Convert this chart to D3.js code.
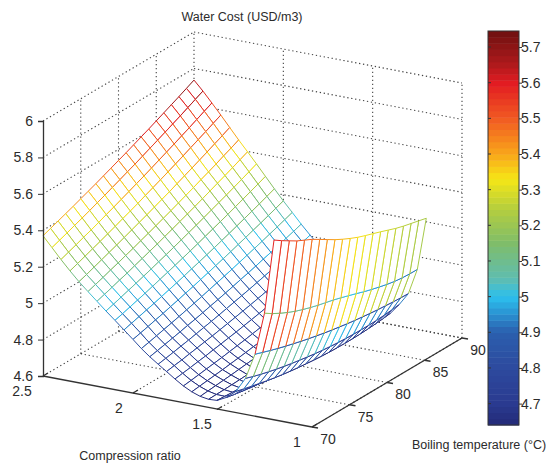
<!DOCTYPE html>
<html>
<head>
<meta charset="utf-8">
<script src="https://d3js.org/d3.v7.min.js"></script>
<style>
  html, body { margin: 0; padding: 0; background: #fff; }
  text { font-family: "Liberation Sans", Arial, sans-serif; fill: #2b2b2b; }
</style>
</head>
<body>
<svg id="chart" width="559" height="466"></svg>
<script>
// compression ratio rows, far side first
var crValues = [2.5, 2.45, 2.4, 2.35, 2.3, 2.25, 2.2, 2.15, 2.1, 2.05, 2, 1.95, 1.9, 1.85, 1.8, 1.75, 1.7, 1.65, 1.6, 1.55, 1.5, 1.45, 1.4, 1.35, 1.3, 1.25, 1.2];
var tempValues = [70, 71, 72, 73, 74, 75, 76, 77, 78, 79, 80, 81, 82, 83, 84, 85, 86, 87, 88, 89, 90];

var waterCost = [
  [5.370,5.386,5.402,5.418,5.434,5.451,5.468,5.485,5.503,5.521,5.539,5.557,5.576,5.595,5.614,5.634,5.654,5.674,5.694,5.715,5.736],
  [5.314,5.330,5.346,5.363,5.379,5.396,5.414,5.431,5.449,5.467,5.486,5.504,5.523,5.543,5.562,5.582,5.602,5.622,5.643,5.664,5.685],
  [5.258,5.274,5.290,5.307,5.323,5.340,5.358,5.375,5.393,5.411,5.430,5.448,5.467,5.487,5.506,5.526,5.546,5.566,5.587,5.608,5.629],
  [5.205,5.221,5.237,5.253,5.269,5.286,5.303,5.321,5.338,5.356,5.375,5.393,5.412,5.431,5.450,5.470,5.490,5.510,5.530,5.551,5.572],
  [5.155,5.170,5.186,5.202,5.218,5.234,5.251,5.268,5.285,5.302,5.320,5.338,5.356,5.375,5.394,5.413,5.432,5.452,5.472,5.492,5.513],
  [5.110,5.125,5.139,5.155,5.170,5.186,5.201,5.218,5.234,5.251,5.268,5.285,5.303,5.321,5.339,5.358,5.376,5.395,5.415,5.434,5.454],
  [5.066,5.080,5.094,5.109,5.123,5.139,5.154,5.170,5.185,5.202,5.218,5.235,5.252,5.269,5.287,5.305,5.323,5.341,5.360,5.379,5.398],
  [5.022,5.035,5.049,5.063,5.077,5.091,5.106,5.121,5.136,5.152,5.168,5.184,5.200,5.217,5.234,5.251,5.268,5.286,5.304,5.322,5.341],
  [4.980,4.992,5.005,5.018,5.031,5.045,5.059,5.073,5.087,5.102,5.117,5.132,5.148,5.164,5.180,5.196,5.213,5.230,5.247,5.264,5.282],
  [4.937,4.949,4.961,4.973,4.985,4.998,5.011,5.024,5.038,5.052,5.066,5.080,5.095,5.110,5.125,5.141,5.157,5.173,5.189,5.206,5.223],
  [4.894,4.905,4.916,4.928,4.939,4.952,4.964,4.977,4.989,5.003,5.016,5.030,5.044,5.058,5.073,5.088,5.103,5.118,5.134,5.150,5.166],
  [4.853,4.863,4.874,4.885,4.896,4.907,4.919,4.931,4.943,4.956,4.969,4.982,4.995,5.009,5.023,5.037,5.051,5.066,5.081,5.096,5.112],
  [4.817,4.826,4.836,4.846,4.856,4.867,4.877,4.888,4.900,4.911,4.923,4.935,4.948,4.960,4.973,4.987,5.000,5.014,5.028,5.042,5.057],
  [4.785,4.793,4.802,4.811,4.820,4.830,4.840,4.850,4.860,4.871,4.882,4.893,4.904,4.916,4.928,4.940,4.953,4.966,4.979,4.992,5.006],
  [4.754,4.762,4.769,4.778,4.786,4.795,4.803,4.813,4.822,4.832,4.842,4.852,4.863,4.874,4.885,4.897,4.908,4.920,4.933,4.945,4.958],
  [4.722,4.729,4.736,4.744,4.751,4.760,4.768,4.777,4.785,4.795,4.804,4.814,4.824,4.834,4.845,4.856,4.867,4.878,4.890,4.902,4.914],
  [4.693,4.699,4.706,4.713,4.720,4.727,4.735,4.743,4.751,4.760,4.769,4.778,4.787,4.797,4.807,4.817,4.827,4.838,4.849,4.860,4.872],
  [4.670,4.676,4.682,4.688,4.694,4.701,4.708,4.715,4.723,4.730,4.739,4.747,4.756,4.765,4.774,4.783,4.793,4.803,4.814,4.824,4.835],
  [4.654,4.659,4.664,4.669,4.674,4.680,4.686,4.692,4.699,4.706,4.713,4.720,4.728,4.736,4.744,4.753,4.762,4.771,4.780,4.790,4.800],
  [4.647,4.649,4.651,4.654,4.657,4.661,4.665,4.670,4.675,4.681,4.687,4.694,4.701,4.708,4.716,4.724,4.732,4.740,4.748,4.757,4.765],
  [4.650,4.648,4.646,4.645,4.644,4.644,4.645,4.647,4.650,4.654,4.659,4.664,4.670,4.676,4.683,4.690,4.697,4.704,4.712,4.721,4.730],
  [4.676,4.668,4.661,4.655,4.650,4.646,4.643,4.641,4.640,4.640,4.641,4.643,4.645,4.648,4.652,4.657,4.663,4.669,4.676,4.684,4.693],
  [4.719,4.708,4.698,4.689,4.680,4.672,4.665,4.659,4.654,4.650,4.646,4.643,4.641,4.640,4.640,4.641,4.643,4.646,4.650,4.655,4.662],
  [4.800,4.786,4.774,4.763,4.753,4.744,4.736,4.729,4.722,4.716,4.711,4.707,4.704,4.702,4.701,4.701,4.702,4.704,4.708,4.713,4.720],
  [4.942,4.928,4.914,4.901,4.889,4.878,4.867,4.857,4.848,4.839,4.831,4.824,4.817,4.811,4.806,4.801,4.797,4.794,4.791,4.789,4.788],
  [5.177,5.150,5.128,5.108,5.090,5.075,5.062,5.050,5.040,5.030,5.018,5.005,4.992,4.978,4.966,4.955,4.945,4.937,4.932,4.930,4.930],
  [5.588,5.560,5.535,5.510,5.490,5.470,5.445,5.420,5.395,5.373,5.353,5.335,5.320,5.306,5.292,5.277,5.262,5.250,5.240,5.230,5.220]
];

var zTicks = [4.6, 4.8, 5, 5.2, 5.4, 5.6, 5.8, 6];
var crTicks = [2.5, 2, 1.5, 1];
var tempTicks = [70, 75, 80, 85, 90];
var barTicks = [4.7, 4.8, 4.9, 5, 5.1, 5.2, 5.3, 5.4, 5.5, 5.6, 5.7];

// colour bar
var colorValues = [4.64, 4.7, 4.8, 4.9, 4.95, 5, 5.05, 5.15, 5.25, 5.33, 5.4, 5.5, 5.6, 5.65, 5.745];
var colorStops = ["#232a78", "#2a3a90", "#2d4a9e", "#2b5fae", "#2a90d0", "#2cc0ee", "#5fbdb0", "#7fbd6a", "#b7cf3c", "#f5e616", "#f9a61a", "#f15a22", "#e21b22", "#b01a1c", "#6e1010"];

var svg = d3.select("#chart");
var color = d3.scaleLinear().domain(colorValues).range(colorStops).clamp(true);

// the box is a bit warped in the picture, so front and back edges get their own scales
var xFront = d3.scaleLinear().domain(crTicks).range([43, 133, 217, 312]);
var yFront = d3.scaleLinear().domain(crTicks).range([376, 393, 409.5, 427]);
var xBack = d3.scaleLinear().domain([2.5, 1]).range([194, 462]);
var yBack = d3.scaleLinear().domain([2.5, 1]).range([287, 338]);
var tScale = d3.scaleLinear().domain([70, 90]).range([0, 1]);
var zHeight = d3.scaleLinear().domain([4.6, 6]).range([0, 255]);

function project(cr, temp, z) {
  var t = tScale(temp);
  return [
    xFront(cr) * (1 - t) + xBack(cr) * t,
    yFront(cr) * (1 - t) + yBack(cr) * t - zHeight(z)
  ];
}

function addLine(g, a, b) {
  return g.append("line")
    .attr("x1", a[0]).attr("y1", a[1])
    .attr("x2", b[0]).attr("y2", b[1]);
}

// dotted box
var grid = svg.append("g")
  .attr("fill", "none")
  .attr("stroke", "#444")
  .attr("stroke-width", 1.1)
  .attr("stroke-dasharray", "1.3 2.7");

zTicks.forEach(function(z) {
  addLine(grid, project(2.5, 70, z), project(2.5, 90, z));
  addLine(grid, project(2.5, 90, z), project(1, 90, z));
});
tempTicks.slice(1).forEach(function(temp) {
  addLine(grid, project(2.5, temp, 4.6), project(2.5, temp, 6));
  addLine(grid, project(2.5, temp, 4.6), project(1, temp, 4.6));
});
crTicks.slice(1).forEach(function(cr) {
  addLine(grid, project(cr, 90, 4.6), project(cr, 90, 6));
  addLine(grid, project(cr, 70, 4.6), project(cr, 90, 4.6));
});

// mesh, painted from the far corner to the near one with white faces
var cells = [];
for (var i = 0; i < crValues.length - 1; i++) {
  for (var j = tempValues.length - 2; j >= 0; j--) {
    cells.push({i: i, j: j});
  }
}

var mesh = svg.append("g").attr("stroke-width", 1).attr("fill", "none");

mesh.selectAll("g")
  .data(cells)
  .enter().append("g")
  .each(function(d) {
    var g = d3.select(this);
    var i = d.i, j = d.j;
    var last = crValues.length - 1;
    var p00 = project(crValues[i], tempValues[j], waterCost[i][j]);
    var p01 = project(crValues[i], tempValues[j + 1], waterCost[i][j + 1]);
    var p10 = project(crValues[i + 1], tempValues[j], waterCost[i + 1][j]);
    var p11 = project(crValues[i + 1], tempValues[j + 1], waterCost[i + 1][j + 1]);

    g.append("polygon")
      .attr("points", [p00, p01, p11, p10].join(" "))
      .attr("fill", "#fff");

    // lines along the temperature axis take the row's colour,
    // lines along the ratio axis take the colour two rows nearer, as in the picture
    addLine(g, p00, p01).attr("stroke", color(waterCost[i][j]));
    addLine(g, p10, p11).attr("stroke", color(waterCost[i + 1][j]));
    addLine(g, p00, p10).attr("stroke", color(waterCost[Math.min(i + 2, last)][j]));
    addLine(g, p01, p11).attr("stroke", color(waterCost[Math.min(i + 2, last)][j + 1]));
  });

// solid axes
var axes = svg.append("g").attr("stroke", "#333").attr("stroke-width", 1.3).attr("fill", "none");
addLine(axes, project(2.5, 70, 4.6), project(1, 70, 4.6));
addLine(axes, project(1, 70, 4.6), project(1, 90, 4.6));

crTicks.forEach(function(cr, n) {
  var p = project(cr, 70, 4.6);
  addLine(axes, p, [p[0] + 5, p[1] - 3]);
  svg.append("text")
    .attr("x", p[0] + [-21, -14, -15, -15][n])
    .attr("y", p[1] + 15)
    .attr("dy", "0.35em")
    .attr("text-anchor", "middle")
    .attr("font-size", 14)
    .text(cr);
});

tempTicks.forEach(function(temp) {
  var p = project(1, temp, 4.6);
  addLine(axes, p, [p[0] + 6, p[1] + 1]);
  svg.append("text")
    .attr("x", p[0] + 16)
    .attr("y", p[1] + 12)
    .attr("dy", "0.35em")
    .attr("text-anchor", "middle")
    .attr("font-size", 14)
    .text(temp);
});

var zScale = d3.scaleLinear().domain([4.6, 6]).range([376, 121]);
var zAxis = svg.append("g")
  .attr("transform", "translate(43,0)")
  .call(d3.axisLeft(zScale).tickValues(zTicks).tickSize(5).tickPadding(5).tickFormat(function(d) { return d; }));
zAxis.selectAll("text").attr("font-size", 14).attr("font-family", null);
zAxis.selectAll("line").attr("stroke", "#333");
zAxis.select(".domain").attr("stroke", "#333").attr("stroke-width", 1.3);

// colour bar
var barY = d3.scaleLinear().domain([4.64, 5.745]).range([425, 31]);
var bandValues = d3.range(0, 64);
var bandH = 394 / 64;
svg.append("g").selectAll("rect")
  .data(bandValues)
  .enter().append("rect")
  .attr("x", 488)
  .attr("width", 31)
  .attr("y", function(d) { return 425 - (d + 1) * bandH; })
  .attr("height", bandH + 0.5)
  .attr("fill", function(d) { return color(barY.invert(425 - (d + 0.5) * bandH)); });

svg.append("rect")
  .attr("x", 488).attr("y", 31).attr("width", 31).attr("height", 394)
  .attr("fill", "none").attr("stroke", "#333").attr("stroke-width", 1);

var barAxis = svg.append("g")
  .attr("transform", "translate(519,0)")
  .call(d3.axisRight(barY).tickValues(barTicks).tickSize(3).tickPadding(-1).tickFormat(function(d) { return d; }));
barAxis.select(".domain").remove();
barAxis.selectAll("text").attr("font-size", 14).attr("font-family", null);
barAxis.selectAll("line").attr("stroke", "#333");

svg.append("g").selectAll("line")
  .data(barTicks)
  .enter().append("line")
  .attr("x1", 488).attr("x2", 491)
  .attr("y1", function(d) { return barY(d); })
  .attr("y2", function(d) { return barY(d); })
  .attr("stroke", "#333");

// titles
svg.append("text").attr("x", 242).attr("y", 21).attr("text-anchor", "middle").attr("font-size", 12.5).text("Water Cost (USD/m3)");
svg.append("text").attr("x", 130).attr("y", 460).attr("text-anchor", "middle").attr("font-size", 12.5).text("Compression ratio");
svg.append("text").attr("x", 479).attr("y", 449).attr("text-anchor", "middle").attr("font-size", 12.5).text("Boiling temperature (°C)");
</script>
</body>
</html>
